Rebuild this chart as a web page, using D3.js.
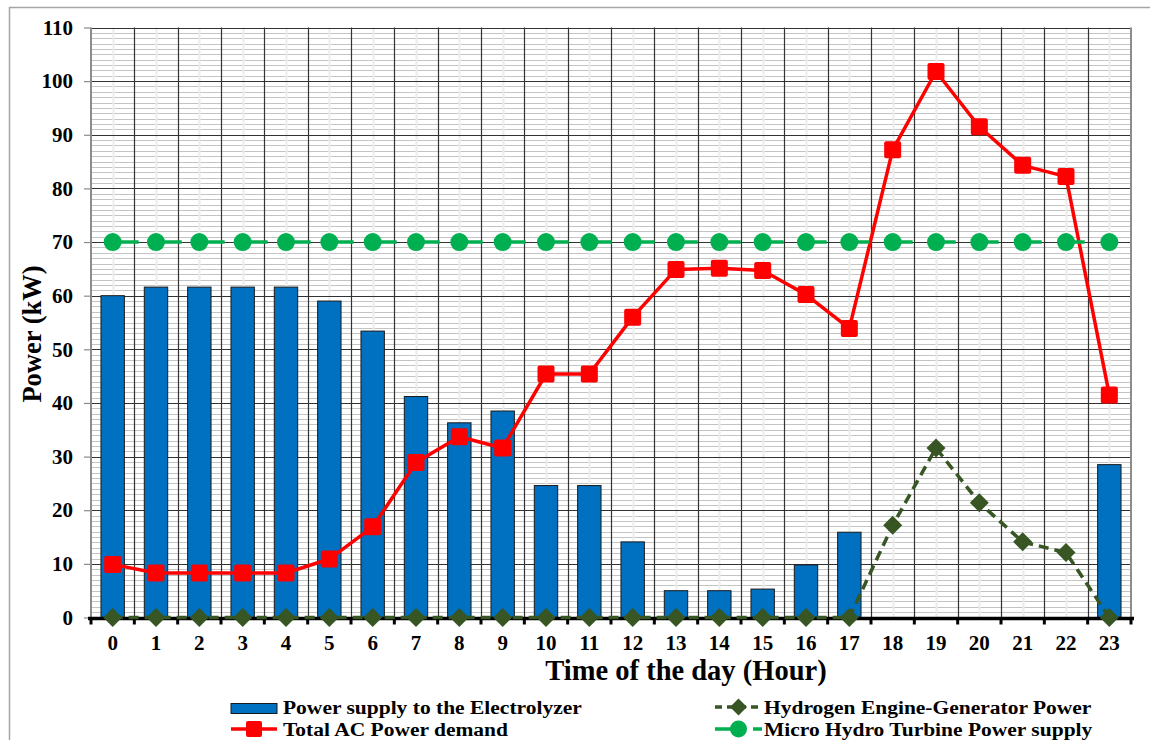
<!DOCTYPE html>
<html>
<head>
<meta charset="utf-8">
<script src="https://cdn.jsdelivr.net/npm/d3@7"></script>
<style>
  html, body { margin: 0; padding: 0; background: #fff; }
  svg { display: block; }
  text { font-family: "Liberation Serif", "Times New Roman", serif; font-weight: bold; fill: #000; }
</style>
</head>
<body>
<svg id="chart" width="1150" height="740"></svg>
<script>
// Hourly power balance (kW) over one day
const hours = d3.range(0, 24);
const electrolyzerPower = [60, 61.6, 61.6, 61.6, 61.6, 59, 53.4, 41.2, 36.3, 38.5, 24.6, 24.6, 14.1, 5.0,
                           5.0, 5.3, 9.8, 15.9, 0, 0, 0, 0, 0, 28.5];
const totalAcDemand = [9.9, 8.3, 8.3, 8.3, 8.3, 10.9, 16.9, 28.9, 33.7, 31.6, 45.4, 45.4, 56, 64.9,
                       65.1, 64.7, 60.2, 53.9, 87.2, 101.8, 91.5, 84.3, 82.2, 41.5];
const hydrogenEngine = [0, 0, 0, 0, 0, 0, 0, 0, 0, 0, 0, 0, 0, 0, 0, 0, 0, 0, 17.2, 31.6, 21.4, 14.1, 12.1, 0];
const microHydro = [70, 70, 70, 70, 70, 70, 70, 70, 70, 70, 70, 70, 70, 70, 70, 70, 70, 70, 70, 70, 70, 70, 70, 70];
const yTicks = d3.range(0, 111, 10);
const legendLabels = ["Power supply to the Electrolyzer", "Total AC Power demand",
                      "Hydrogen Engine-Generator Power", "Micro Hydro Turbine Power supply"];

const C = { bar: "#0070C0", red: "#FF0000", olive: "#375623", green: "#00B050" };

const svg = d3.select("#chart");

// outer chart frame
svg.append("rect").attr("x", 9.5).attr("y", 7.5).attr("width", 1160).attr("height", 760)
  .attr("fill", "#fff").attr("stroke", "#a6a6a6").attr("stroke-width", 1.5);

const plotLeft = 91, plotRight = 1131, plotTop = 27.5, plotBottom = 617.5;
const x = d3.scaleBand().domain(hours).range([plotLeft, plotRight]).padding(0);
const y = d3.scaleLinear().domain([0, 110]).range([plotBottom, plotTop]);
const bw = x.bandwidth();
const cx = h => x(h) + bw / 2;

const grid = svg.append("g");
// minor horizontal lines every 1 kW
grid.selectAll("line.hmin").data(d3.range(1, 110)).join("line")
  .attr("x1", plotLeft).attr("x2", plotRight)
  .attr("y1", d => Math.round(y(d)) + 0.5).attr("y2", d => Math.round(y(d)) + 0.5)
  .attr("stroke", "#c4c4c4").attr("stroke-width", 1);
// minor vertical lines at hour centres
grid.selectAll("line.vmin").data(hours).join("line")
  .attr("x1", d => Math.round(cx(d)) + 0.5).attr("x2", d => Math.round(cx(d)) + 0.5)
  .attr("y1", plotTop).attr("y2", plotBottom)
  .attr("stroke", "#ececec").attr("stroke-width", 2);
// major horizontal lines every 10 kW
grid.selectAll("line.hmaj").data(yTicks.filter(d => d > 0)).join("line")
  .attr("x1", plotLeft).attr("x2", plotRight)
  .attr("y1", d => Math.round(y(d)) + 0.5).attr("y2", d => Math.round(y(d)) + 0.5)
  .attr("stroke", "#333").attr("stroke-width", 1.2);
// major vertical lines at hour boundaries
grid.selectAll("line.vmaj").data(hours.slice(1)).join("line")
  .attr("x1", d => Math.round(x(d)) + 0.5).attr("x2", d => Math.round(x(d)) + 0.5)
  .attr("y1", plotTop).attr("y2", plotBottom)
  .attr("stroke", "#333").attr("stroke-width", 1.2);
// plot-area left and right edges
svg.append("line").attr("x1", plotLeft).attr("x2", plotLeft).attr("y1", plotTop).attr("y2", plotBottom)
  .attr("stroke", "#8c8c8c").attr("stroke-width", 2);
svg.append("line").attr("x1", plotRight).attr("x2", plotRight).attr("y1", plotTop).attr("y2", plotBottom)
  .attr("stroke", "#8c8c8c").attr("stroke-width", 2);

// y axis ticks and labels
const yAxis = svg.append("g").attr("transform", `translate(${plotLeft},0)`)
  .call(d3.axisLeft(y).tickValues(yTicks).tickSize(7).tickPadding(11));
yAxis.select(".domain").remove();
yAxis.selectAll(".tick line").attr("stroke", "#8c8c8c").attr("stroke-width", 1.2);
yAxis.selectAll(".tick text").attr("font-size", 21).attr("font-family", null).attr("fill", "#000");

// electrolyzer bars
svg.append("g").selectAll("rect").data(hours.filter(h => electrolyzerPower[h] > 0)).join("rect")
  .attr("x", h => x(h) + bw * 0.23)
  .attr("width", bw * 0.54)
  .attr("y", h => y(electrolyzerPower[h]))
  .attr("height", h => y(0) - y(electrolyzerPower[h]))
  .attr("fill", C.bar).attr("stroke", "#1a1a1a").attr("stroke-width", 1);

// x axis: heavy baseline with outward ticks at hour boundaries
const xAxisG = svg.append("g");
xAxisG.append("line").attr("x1", plotLeft - 3).attr("x2", plotRight + 3).attr("y1", plotBottom + 1).attr("y2", plotBottom + 1)
  .attr("stroke", "#000").attr("stroke-width", 3.5);
xAxisG.selectAll("line.tk").data(hours.concat([24])).join("line")
  .attr("x1", d => d < 24 ? x(d) : plotRight).attr("x2", d => d < 24 ? x(d) : plotRight)
  .attr("y1", plotBottom).attr("y2", plotBottom + 7)
  .attr("stroke", "#000").attr("stroke-width", 3);
xAxisG.selectAll("text").data(hours).join("text")
  .attr("x", cx).attr("y", 650).attr("text-anchor", "middle").attr("font-size", 21)
  .text(d => d);

// series lines
const line = data => d3.line().x(h => cx(h)).y(h => y(data[h]))(hours);

svg.append("path").attr("d", line(hydrogenEngine)).attr("fill", "none")
  .attr("stroke", C.olive).attr("stroke-width", 3.5).attr("stroke-dasharray", "10,6");
svg.append("g").selectAll("path").data(hours).join("path")
  .attr("transform", h => `translate(${cx(h)},${y(hydrogenEngine[h])})`)
  .attr("d", "M0,-9.5L9.5,0L0,9.5L-9.5,0Z").attr("fill", C.olive);

svg.append("path").attr("d", line(totalAcDemand)).attr("fill", "none")
  .attr("stroke", C.red).attr("stroke-width", 3.5).attr("stroke-linejoin", "round");
svg.append("g").selectAll("rect").data(hours).join("rect")
  .attr("x", h => cx(h) - 8.5).attr("y", h => y(totalAcDemand[h]) - 8.5)
  .attr("width", 17).attr("height", 17).attr("rx", 2).attr("fill", C.red);

svg.append("path").attr("d", line(microHydro)).attr("fill", "none")
  .attr("stroke", C.green).attr("stroke-width", 3.5).attr("stroke-dasharray", "26,17")
  .attr("stroke-dashoffset", 0);
svg.append("g").selectAll("circle").data(hours).join("circle")
  .attr("cx", cx).attr("cy", h => y(microHydro[h])).attr("r", 9).attr("fill", C.green);

// axis titles
svg.append("text").attr("x", 686).attr("y", 680).attr("text-anchor", "middle")
  .attr("font-size", 28.5).text("Time of the day (Hour)");
svg.append("text").attr("transform", "translate(41,334) rotate(-90)").attr("text-anchor", "middle")
  .attr("font-size", 26.5).text("Power (kW)");

// legend
const lg = svg.append("g");
const rows = [714, 735.5];
// bar swatch
lg.append("rect").attr("x", 231).attr("y", 703.5).attr("width", 46).attr("height", 10)
  .attr("fill", C.bar).attr("stroke", "#1a1a1a").attr("stroke-width", 1);
// red line swatch
lg.append("line").attr("x1", 231).attr("x2", 277).attr("y1", 729).attr("y2", 729)
  .attr("stroke", C.red).attr("stroke-width", 3.5);
lg.append("rect").attr("x", 246).attr("y", 721).attr("width", 16).attr("height", 16).attr("rx", 2).attr("fill", C.red);
// hydrogen swatch
lg.append("line").attr("x1", 715).attr("x2", 762).attr("y1", 707).attr("y2", 707)
  .attr("stroke", C.olive).attr("stroke-width", 3.5).attr("stroke-dasharray", "7,5");
lg.append("path").attr("transform", "translate(738.5,707)").attr("d", "M0,-8.5L8.5,0L0,8.5L-8.5,0Z").attr("fill", C.olive);
// micro hydro swatch
lg.append("line").attr("x1", 715).attr("x2", 762).attr("y1", 729).attr("y2", 729)
  .attr("stroke", C.green).attr("stroke-width", 3.5).attr("stroke-dasharray", "30,8");
lg.append("circle").attr("cx", 738.5).attr("cy", 729).attr("r", 8.5).attr("fill", C.green);

// legend labels: compact height, widened glyphs so the two rows stay apart
const legendText = lg.selectAll("text").data(legendLabels).join("text")
  .attr("font-size", 18)
  .text(d => d);
const firstWidth = legendText.node().getComputedTextLength();
const stretch = 299 / firstWidth;
legendText.attr("transform", (d, i) =>
  `translate(${i < 2 ? 283 : 764},${rows[i % 2]}) scale(${stretch},1)`);
</script>
</body>
</html>
